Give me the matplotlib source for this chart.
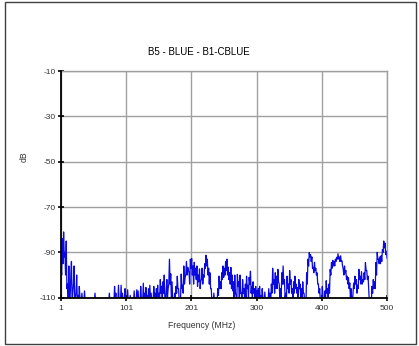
import numpy as np
import matplotlib
matplotlib.use('Agg')
import matplotlib.pyplot as plt
from matplotlib.patches import Rectangle

plt.rcParams['font.family'] = ['Liberation Sans', 'DejaVu Sans']
plt.rcParams['axes.unicode_minus'] = False

# Spettro: massimi locali (1, 3, 5, ... 499, 500)
freq_hi = list(range(1, 500, 2)) + [500]
db_hi = [
    -95, -84, -81, -90, -85, -104, -96, -110, -94, -108,
    -96, -110, -100, -109, -105, -112, -108, -112, -107, -112,
    -112, -112, -112, -112, -112, -112, -108, -112, -112, -112,
    -112, -112, -112, -112, -112, -112, -112, -108, -112, -112,
    -112, -105, -108, -110, -104.5, -110, -104.5, -108, -112, -106,
    -110, -106.5, -112, -109, -112, -110, -107, -110, -106.5, -107,
    -112, -105, -110, -103.6, -108, -105.5, -109, -106, -104.5, -108,
    -110, -105, -108, -106, -104.5, -108, -102, -105, -103, -100,
    -112, -102, -106, -93, -99.5, -103, -110, -108, -105, -100.5,
    -106, -112, -99.6, -104.5, -96, -101, -94, -96.6, -99, -93,
    -92.7, -96, -94.4, -97, -96, -100, -97.3, -102.5, -97, -100,
    -95, -91.3, -93, -97, -99, -106, -112, -108, -112, -110,
    -106, -100.5, -103, -99, -96, -97, -94, -93, -96.5, -99,
    -96.6, -100, -103, -100, -109, -99.7, -103, -100, -108, -102,
    -106, -104, -100.5, -104.5, -101, -98.3, -105, -103, -106, -105,
    -107, -106, -105, -109, -106, -110, -107.5, -112, -110, -106,
    -108, -104, -97, -102, -99, -100.5, -97.5, -104, -106, -99,
    -96, -102, -108, -100.5, -104, -98, -102, -106, -103, -100.5,
    -104, -105.5, -102, -104, -106, -103, -108, -112, -99, -93,
    -90.1, -91, -92, -96.6, -94.4, -97, -99, -104, -106, -110,
    -105, -112, -107, -102.5, -106, -104, -97.5, -94.5, -93.5, -94,
    -93, -92.2, -90.6, -92, -91.5, -93.7, -97.5, -96, -98, -100.5,
    -101.2, -103.5, -106, -112, -103.5, -100.5, -102, -104.5, -97.5, -100.5,
    -98.5, -102, -99, -94.5, -98, -100.5, -112, -110, -105, -102,
    -103, -94.5, -90, -93, -92, -91.5, -88.8, -85, -86, -89.5,
    -92.6,
]

# minimi locali (2, 4, ... 498)
freq_lo = list(range(2, 500, 2))
db_lo = [
    -100, -95, -92, -100, -106, -110, -112, -100, -112, -104,
    -112, -108, -112, -112, -110, -112, -112, -112, -112, -112,
    -112, -112, -112, -112, -112, -112, -112, -112, -112, -112,
    -112, -112, -112, -112, -112, -112, -112, -112, -112, -112,
    -112, -110, -112, -112, -112, -112, -112, -112, -110, -112,
    -112, -112, -112, -112, -112, -112, -112, -112, -112, -112,
    -112, -110, -112, -112, -112, -110, -112, -112, -112, -112,
    -112, -110, -112, -110, -112, -110, -108, -112, -108, -110,
    -108, -110, -104, -104, -112, -112, -112, -110, -108, -106,
    -112, -110, -106, -108, -104, -100, -100, -98, -104, -97,
    -100, -104, -100, -102, -105, -103, -106, -102, -104, -101,
    -97, -96, -100, -104, -106, -112, -112, -112, -112, -112,
    -109, -106, -106, -102, -101, -100, -98, -100, -102, -104,
    -106, -107, -110, -108, -112, -105, -110, -108, -112, -108,
    -110, -110, -106, -110, -104, -108, -110, -108, -112, -110,
    -112, -110, -112, -112, -110, -112, -112, -112, -112, -112,
    -112, -108, -104, -108, -106, -106, -103, -110, -110, -104,
    -104, -110, -112, -106, -108, -104, -108, -112, -108, -106,
    -108, -112, -106, -110, -112, -108, -112, -112, -104, -96,
    -92, -94, -97, -99, -98, -100, -104, -108, -112, -112,
    -110, -112, -110, -108, -110, -108, -100, -97, -96, -96,
    -94, -93, -93, -94, -94, -96, -100, -99, -102, -104,
    -106, -110, -112, -108, -106, -104, -108, -106, -102, -104,
    -104, -103, -102, -98, -102, -106, -112, -112, -108, -106,
    -106, -100, -93, -95, -95, -94, -90, -88, -91,
]

xticks = [1, 100.8, 200.6, 300.4, 400.2, 500]
xtick_labels = ['1', '101', '201', '300', '400', '500']
yticks = [-110, -90, -70, -50, -30, -10]

f_all = np.array(freq_hi + freq_lo)
d_all = np.array(db_hi + db_lo)
order = np.argsort(f_all)

fig = plt.figure(figsize=(4.19, 3.46), dpi=100)
ax = fig.add_axes([61/419, 1 - 297.7/346, 326/419, 226.7/346])

ax.plot(f_all[order], d_all[order], color='#0a0ae0', linewidth=0.9)

ax.set_xlim(1, 500)
ax.set_ylim(-110, -10)
ax.set_xticks(xticks)
ax.set_xticklabels(xtick_labels)
ax.set_yticks(yticks)
ax.grid(True, color='#a0a0a0', linewidth=1.0)
ax.set_axisbelow(True)

for s in ['top', 'right']:
    ax.spines[s].set_color('#a0a0a0')
    ax.spines[s].set_linewidth(1.0)
for s in ['left', 'bottom']:
    ax.spines[s].set_color('black')
    ax.spines[s].set_linewidth(1.3)
    ax.spines[s].set_zorder(3)

ax.tick_params(axis='both', direction='inout', length=5, width=1.2,
               labelsize=6, colors='black', labelcolor='#333333')
ax.tick_params(axis='y', pad=1)
ax.tick_params(axis='x', pad=3)

fig.text(199/419, 1 - 52/346, 'B5 - BLUE - B1-CBLUE', fontsize=7,
         ha='center', va='center')
fig.text(202/419, 1 - 326/346, 'Frequency (MHz)', fontsize=6.2,
         ha='center', va='center', color='#333333')
fig.text(24/419, 1 - 157/346, 'dB', fontsize=6.2, rotation=90,
         ha='center', va='center', color='#333333')

fig.patches.append(Rectangle((5/419, 2/346), 411/419, 342/346,
                             transform=fig.transFigure, fill=False,
                             edgecolor='#404040', linewidth=1.0))

fig.savefig('out.png', dpi=100)
